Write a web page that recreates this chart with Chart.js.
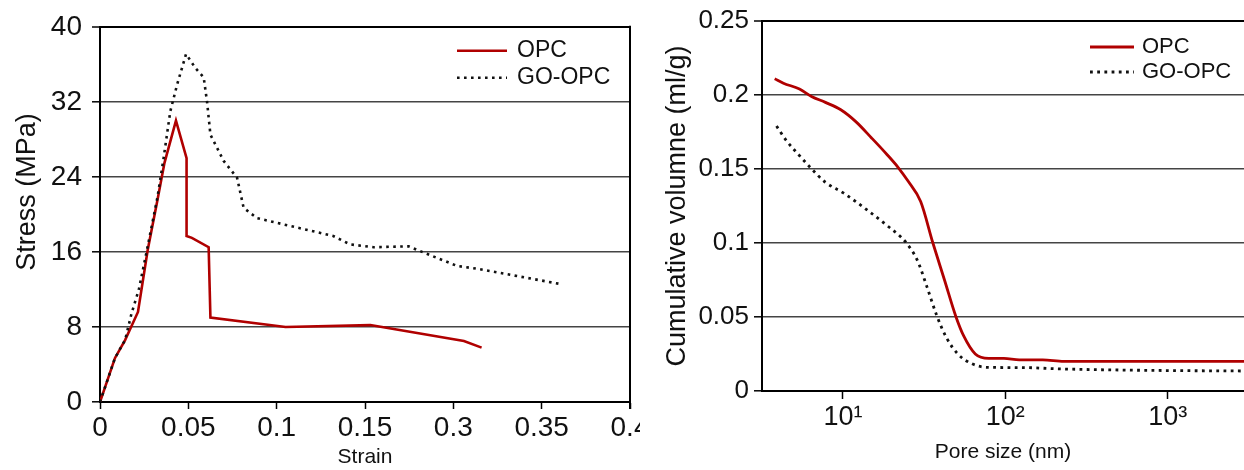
<!DOCTYPE html>
<html>
<head>
<meta charset="utf-8">
<script src="https://cdn.jsdelivr.net/npm/chart.js@4.4.0/dist/chart.umd.min.js"></script>
<style>
  body { margin: 0; background: #fff; }
  #wrap { position: relative; width: 1244px; height: 470px; overflow: hidden; background: #fff; }
  #stressChart { position: absolute; left: 0; top: 0; }
  #poreChart { position: absolute; left: 640px; top: 0; background: #fff; }
</style>
</head>
<body>
<div id="wrap">
  <canvas id="stressChart" width="660" height="470"></canvas>
  <canvas id="poreChart" width="604" height="470"></canvas>
</div>
<script>
// ---- stress / strain (left) ----
const strainTickValues = [0, 0.05, 0.1, 0.15, 0.2, 0.25, 0.3];
const strainTickLabels = ['0', '0.05', '0.1', '0.15', '0.3', '0.35', '0.4'];

const opcStrain = [0, 0.0085, 0.0142, 0.0215, 0.027, 0.0325, 0.0365, 0.043, 0.049, 0.049, 0.052, 0.0615, 0.0625, 0.105, 0.153, 0.206, 0.216];
const opcStress = [0, 4.7, 6.6, 9.6, 16.2, 21.5, 25.5, 30.0, 26.0, 17.7, 17.5, 16.5, 9.0, 8.0, 8.2, 6.5, 5.8];

const goStrain = [0, 0.0085, 0.0142, 0.0178, 0.022, 0.027, 0.0325, 0.036, 0.0398, 0.0436, 0.0487, 0.054, 0.0587, 0.0606, 0.0625, 0.07, 0.0776, 0.0813, 0.0889, 0.1115, 0.132, 0.1416, 0.1548, 0.1746, 0.185, 0.2022, 0.2137, 0.26];
const goStress = [0, 4.7, 6.6, 9.4, 12.0, 16.6, 21.8, 26.0, 31.0, 33.8, 37.1, 35.6, 34.6, 32.0, 28.5, 25.7, 23.9, 20.7, 19.6, 18.6, 17.7, 16.8, 16.5, 16.6, 15.8, 14.5, 14.2, 12.6];

// ---- pore size (right) ----
const poreTickValues = [10, 100, 1000];
const poreTickLabels = ['10¹', '10²', '10³'];

const opcPore = [3.8, 4.3, 5.4, 6.4, 7.8, 9.7, 12.0, 15.0, 18.6, 21.9, 25.1, 30.1, 35.8, 42.2, 49.7, 55.5, 65.3, 79, 98, 122, 170, 229, 3000];
const opcVolume = [0.211, 0.208, 0.204, 0.199, 0.195, 0.19, 0.182, 0.171, 0.16, 0.151, 0.142, 0.128, 0.1, 0.075, 0.05, 0.037, 0.025, 0.022, 0.022, 0.021, 0.021, 0.02, 0.02];

const goPore = [3.9, 4.5, 5.3, 6.3, 7.8, 10.0, 14.2, 18.6, 24.6, 28.8, 33.0, 37.8, 43.4, 51, 62, 77, 133, 205, 684, 3000];
const goVolume = [0.179, 0.169, 0.16, 0.151, 0.141, 0.134, 0.122, 0.112, 0.1, 0.088, 0.07, 0.051, 0.036, 0.025, 0.0185, 0.016, 0.0158, 0.015, 0.014, 0.0135];

const seriesNames = ['OPC', 'GO-OPC'];

const RED = '#b00000';
const FONT = "'Liberation Sans', Arial, sans-serif";

function toPoints(xs, ys) {
  return xs.map((x, i) => ({ x: x, y: ys[i] }));
}

// legend drawn inside the plot, top right corner
const cornerLegend = {
  id: 'cornerLegend',
  afterDraw(chart, args, opts) {
    const ctx = chart.ctx;
    const area = chart.chartArea;
    ctx.save();
    chart.data.datasets.forEach((ds, i) => {
      const x = area.right - opts.right;
      const y = area.top + opts.top + i * opts.gap;
      ctx.strokeStyle = ds.borderColor;
      ctx.lineWidth = ds.borderWidth;
      ctx.setLineDash(ds.borderDash || []);
      ctx.beginPath();
      ctx.moveTo(x, y);
      ctx.lineTo(x + opts.lineLen, y);
      ctx.stroke();
      ctx.setLineDash([]);
      ctx.fillStyle = '#111';
      ctx.font = opts.size + 'px ' + FONT;
      ctx.textBaseline = 'middle';
      ctx.fillText(ds.label, x + opts.lineLen + opts.textGap, y);
    });
    ctx.restore();
  }
};

// right side border of the left plot
const rightFrame = {
  id: 'rightFrame',
  afterDraw(chart, args, opts) {
    if (!opts.show) return;
    const ctx = chart.ctx;
    const a = chart.chartArea;
    ctx.save();
    ctx.strokeStyle = '#000';
    ctx.lineWidth = 2;
    ctx.beginPath();
    ctx.moveTo(a.right, a.top - 1);
    ctx.lineTo(a.right, a.bottom + 7);
    ctx.stroke();
    ctx.restore();
  }
};

function gridColor(max) {
  return (c) => (c.tick && c.tick.value === max ? '#000' : '#444');
}
function gridWidth(max) {
  return (c) => (c.tick && c.tick.value === max ? 2 : 1.6);
}

new Chart(document.getElementById('stressChart'), {
  type: 'line',
  data: {
    datasets: [{
      label: seriesNames[0],
      data: toPoints(opcStrain, opcStress),
      borderColor: RED,
      borderWidth: 2.6,
      pointRadius: 0,
      tension: 0,
      order: 1
    }, {
      label: seriesNames[1],
      data: toPoints(goStrain, goStress),
      borderColor: '#111',
      borderWidth: 2.6,
      borderDash: [2.6, 4.4],
      pointRadius: 0,
      tension: 0,
      order: 0
    }]
  },
  options: {
    responsive: false,
    animation: false,
    devicePixelRatio: 1,
    layout: { padding: { top: 25, right: 30, bottom: 0, left: 0 } },
    plugins: {
      legend: { display: false },
      tooltip: { enabled: false },
      cornerLegend: { right: 173, top: 24, gap: 27, lineLen: 50, textGap: 10, size: 23 },
      rightFrame: { show: true }
    },
    scales: {
      x: {
        type: 'linear',
        min: 0,
        max: 0.3,
        afterBuildTicks: (s) => { s.ticks = strainTickValues.map(v => ({ value: v })); },
        afterFit: (s) => { s.height = 68; },
        ticks: {
          callback: (v, i) => strainTickLabels[i],
          font: { family: FONT, size: 28 },
          color: '#111',
          padding: 2,
          maxRotation: 0
        },
        grid: { drawOnChartArea: false, drawTicks: true, tickLength: 7, tickColor: '#000', tickWidth: 1.5 },
        border: { display: true, color: '#000', width: 2 },
        title: { display: true, text: 'Strain', font: { family: FONT, size: 21 }, color: '#111', padding: 0 }
      },
      y: {
        min: 0,
        max: 40,
        afterFit: (s) => { s.width = 100; },
        ticks: { stepSize: 8, font: { family: FONT, size: 28 }, color: '#111', padding: 10 },
        grid: { color: gridColor(40), lineWidth: gridWidth(40), tickLength: 8, tickColor: '#000', tickWidth: 1.5 },
        border: { display: true, color: '#000', width: 2 },
        // leading spaces nudge the rotated title up to where the original sits
        title: { display: true, text: '      Stress (MPa)', font: { family: FONT, size: 27 }, color: '#111', padding: { top: 11 } }
      }
    }
  },
  plugins: [cornerLegend, rightFrame]
});

new Chart(document.getElementById('poreChart'), {
  type: 'line',
  data: {
    datasets: [{
      label: seriesNames[0],
      data: toPoints(opcPore, opcVolume),
      borderColor: RED,
      borderWidth: 2.8,
      pointRadius: 0,
      cubicInterpolationMode: 'monotone',
      order: 1
    }, {
      label: seriesNames[1],
      data: toPoints(goPore, goVolume),
      borderColor: '#111',
      borderWidth: 2.8,
      borderDash: [2.8, 4.4],
      pointRadius: 0,
      cubicInterpolationMode: 'monotone',
      order: 0
    }]
  },
  options: {
    responsive: false,
    animation: false,
    devicePixelRatio: 1,
    layout: { padding: { top: 21, right: 0, bottom: 0, left: 0 } },
    plugins: {
      legend: { display: false },
      tooltip: { enabled: false },
      cornerLegend: { right: 154, top: 26, gap: 25, lineLen: 44, textGap: 8, size: 22 },
      rightFrame: { show: false }
    },
    scales: {
      x: {
        type: 'logarithmic',
        min: 3.174,
        max: 2948,
        afterBuildTicks: (s) => { s.ticks = poreTickValues.map(v => ({ value: v })); },
        afterFit: (s) => { s.height = 79; },
        ticks: {
          callback: (v, i) => poreTickLabels[i],
          font: { family: FONT, size: 27 },
          color: '#111',
          padding: 2,
          maxRotation: 0,
          autoSkip: false
        },
        grid: { drawOnChartArea: false, drawTicks: true, tickLength: 8, tickColor: '#000', tickWidth: 1.5 },
        border: { display: true, color: '#000', width: 2 },
        title: { display: true, text: 'Pore size (nm)', font: { family: FONT, size: 21 }, color: '#111', padding: { bottom: 5 } }
      },
      y: {
        min: 0,
        max: 0.25,
        afterFit: (s) => { s.width = 122; },
        ticks: {
          stepSize: 0.05,
          callback: (v) => String(parseFloat(v.toFixed(2))),
          font: { family: FONT, size: 26 },
          color: '#111',
          padding: 5
        },
        grid: { color: gridColor(0.25), lineWidth: gridWidth(0.25), tickLength: 8, tickColor: '#000', tickWidth: 1.5 },
        border: { display: true, color: '#000', width: 2 },
        title: { display: true, text: 'Cumulative volumne (ml/g)', font: { family: FONT, size: 27 }, color: '#111', padding: { top: 21 } }
      }
    }
  },
  plugins: [cornerLegend, rightFrame]
});
</script>
</body>
</html>
